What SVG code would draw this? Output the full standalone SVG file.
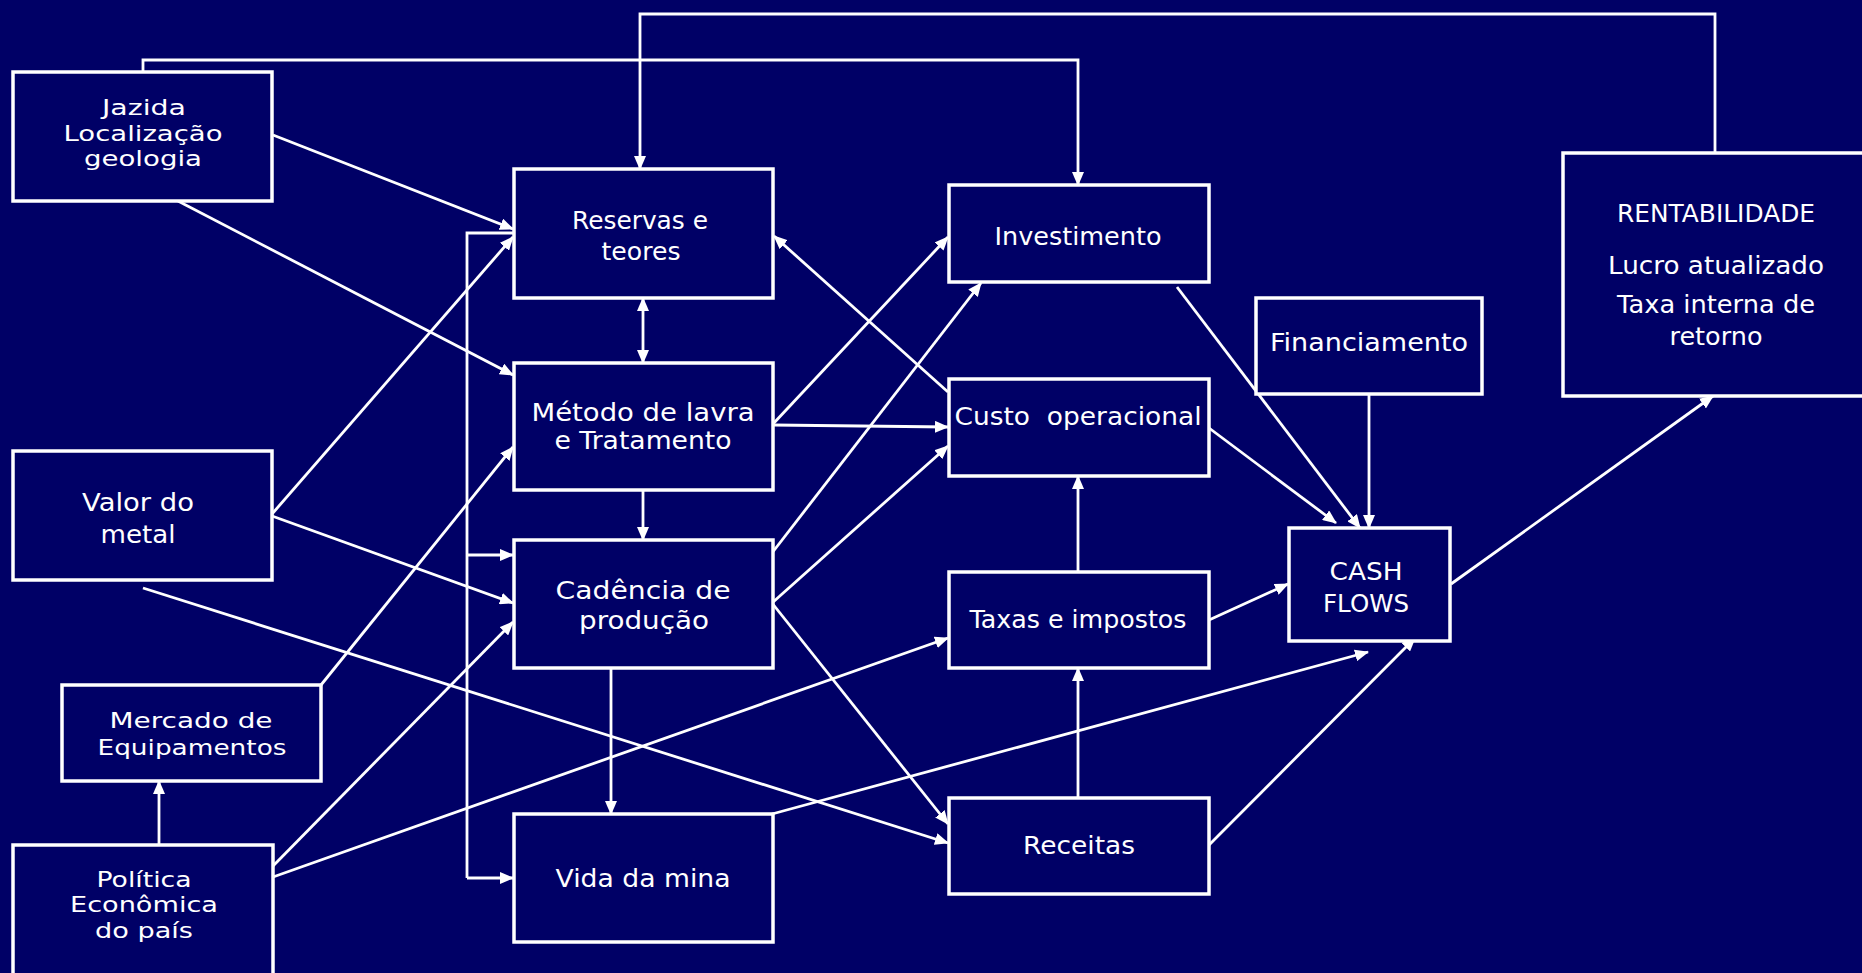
<svg xmlns="http://www.w3.org/2000/svg" width="1862" height="973" viewBox="0 0 1862 973">
<style>
.bg{fill:#000066}
.box{fill:#000066;stroke:#ffffff;stroke-width:3.5}
.c{fill:none;stroke:#ffffff;stroke-width:2.8}
.a{marker-end:url(#ah)}
text{font-family:"DejaVu Sans","Liberation Sans",sans-serif;font-size:25px;fill:#ffffff;text-anchor:middle}
.t{font-size:22px}
</style>
<defs>
<marker id="ah" viewBox="0 0 14 12" refX="13" refY="6" markerWidth="14" markerHeight="12" markerUnits="userSpaceOnUse" orient="auto-start-reverse">
<path d="M0,0 L14,6 L0,12 z" fill="#ffffff"/>
</marker>
</defs>
<rect class="bg" x="0" y="0" width="1862" height="973"/>

<g id="connectors">
<path class="c a" d="M143,72 V60 H1078 V185"/>
<path class="c a" d="M1715,153 V14 H640 V169"/>
<path class="c a" d="M273,135 L513,229"/>
<path class="c a" d="M178,201 L513,375"/>
<path class="c a" d="M272,514 L513,237"/>
<path class="c a" d="M272,516 L513,603"/>
<path class="c a" d="M143,588 L948,843"/>
<path class="c a" d="M321,685 L513,447"/>
<path class="c a" d="M159,845 V781"/>
<path class="c a" d="M273,866 L513,622"/>
<path class="c a" d="M273,877 L948,638"/>
<path class="c" d="M513,233 H467 V878"/>
<path class="c a" d="M467,555 H513"/>
<path class="c a" d="M467,878 H513"/>
<path class="c a" d="M643,298 V363" marker-start="url(#ah)"/>
<path class="c a" d="M643,490 V540"/>
<path class="c a" d="M611,668 V814"/>
<path class="c a" d="M773,424 L948,237"/>
<path class="c a" d="M773,425 L948,427"/>
<path class="c a" d="M948,392 L774,236"/>
<path class="c a" d="M772,553 L981,283"/>
<path class="c a" d="M772,603 L948,446"/>
<path class="c a" d="M772,603 L948,824"/>
<path class="c a" d="M772,814 L1368,652"/>
<path class="c a" d="M1177,287 L1360,528"/>
<path class="c a" d="M1209,428 L1336,523"/>
<path class="c a" d="M1369,394 V528"/>
<path class="c a" d="M1209,620 L1288,584"/>
<path class="c a" d="M1078,572 V476"/>
<path class="c a" d="M1078,798 V668"/>
<path class="c a" d="M1209,845 L1415,638"/>
<path class="c a" d="M1451,584 L1713,396"/>
</g>

<g id="jazida">
<rect class="box" x="13" y="72" width="259" height="129"/>
<text class="t" x="144" y="115" textLength="84" lengthAdjust="spacingAndGlyphs">Jazida</text>
<text class="t" x="143" y="141" textLength="159" lengthAdjust="spacingAndGlyphs">Localização</text>
<text class="t" x="143" y="166" textLength="118" lengthAdjust="spacingAndGlyphs">geologia</text>
</g>

<g id="reservas">
<rect class="box" x="514" y="169" width="259" height="129"/>
<text x="640" y="229" textLength="136" lengthAdjust="spacingAndGlyphs">Reservas e</text>
<text x="641" y="260" textLength="79" lengthAdjust="spacingAndGlyphs">teores</text>
</g>

<g id="metodo">
<rect class="box" x="514" y="363" width="259" height="127"/>
<text x="643" y="421" textLength="223" lengthAdjust="spacingAndGlyphs">Método de lavra</text>
<text x="643" y="449" textLength="177" lengthAdjust="spacingAndGlyphs">e Tratamento</text>
</g>

<g id="cadencia">
<rect class="box" x="514" y="540" width="259" height="128"/>
<text x="643" y="599" textLength="175" lengthAdjust="spacingAndGlyphs">Cadência de</text>
<text x="644" y="629" textLength="130" lengthAdjust="spacingAndGlyphs">produção</text>
</g>

<g id="vida">
<rect class="box" x="514" y="814" width="259" height="128"/>
<text x="643" y="887" textLength="175" lengthAdjust="spacingAndGlyphs">Vida da mina</text>
</g>

<g id="valor">
<rect class="box" x="13" y="451" width="259" height="129"/>
<text x="138" y="511" textLength="112" lengthAdjust="spacingAndGlyphs">Valor do</text>
<text x="138" y="543" textLength="75" lengthAdjust="spacingAndGlyphs">metal</text>
</g>

<g id="mercado">
<rect class="box" x="62" y="685" width="259" height="96"/>
<text class="t" x="191" y="728" textLength="163" lengthAdjust="spacingAndGlyphs">Mercado de</text>
<text class="t" x="192" y="755" textLength="189" lengthAdjust="spacingAndGlyphs">Equipamentos</text>
</g>

<g id="politica">
<rect class="box" x="13" y="845" width="260" height="145"/>
<text class="t" x="144" y="887" textLength="95" lengthAdjust="spacingAndGlyphs">Política</text>
<text class="t" x="144" y="912" textLength="148" lengthAdjust="spacingAndGlyphs">Econômica</text>
<text class="t" x="144" y="938" textLength="98" lengthAdjust="spacingAndGlyphs">do país</text>
</g>

<g id="investimento">
<rect class="box" x="949" y="185" width="260" height="97"/>
<text x="1078" y="245" textLength="167" lengthAdjust="spacingAndGlyphs">Investimento</text>
</g>

<g id="custo">
<rect class="box" x="949" y="379" width="260" height="97"/>
<text x="1078" y="425" textLength="247" lengthAdjust="spacingAndGlyphs" xml:space="preserve">Custo  operacional</text>
</g>

<g id="taxas">
<rect class="box" x="949" y="572" width="260" height="96"/>
<text x="1078" y="628" textLength="217" lengthAdjust="spacingAndGlyphs">Taxas e impostos</text>
</g>

<g id="receitas">
<rect class="box" x="949" y="798" width="260" height="96"/>
<text x="1079" y="854" textLength="112" lengthAdjust="spacingAndGlyphs">Receitas</text>
</g>

<g id="financiamento">
<rect class="box" x="1256" y="298" width="226" height="96"/>
<text x="1369" y="351" textLength="198" lengthAdjust="spacingAndGlyphs">Financiamento</text>
</g>

<g id="cashflows">
<rect class="box" x="1289" y="528" width="161" height="113"/>
<text x="1366" y="580" textLength="73" lengthAdjust="spacingAndGlyphs">CASH</text>
<text x="1366" y="612" textLength="86" lengthAdjust="spacingAndGlyphs">FLOWS</text>
</g>

<g id="rentabilidade">
<rect class="box" x="1563" y="153" width="330" height="243"/>
<text x="1716" y="222" textLength="198" lengthAdjust="spacingAndGlyphs">RENTABILIDADE</text>
<text x="1716" y="274" textLength="216" lengthAdjust="spacingAndGlyphs">Lucro atualizado</text>
<text x="1716" y="313" textLength="198" lengthAdjust="spacingAndGlyphs">Taxa interna de</text>
<text x="1716" y="345" textLength="93" lengthAdjust="spacingAndGlyphs">retorno</text>
</g>
</svg>
